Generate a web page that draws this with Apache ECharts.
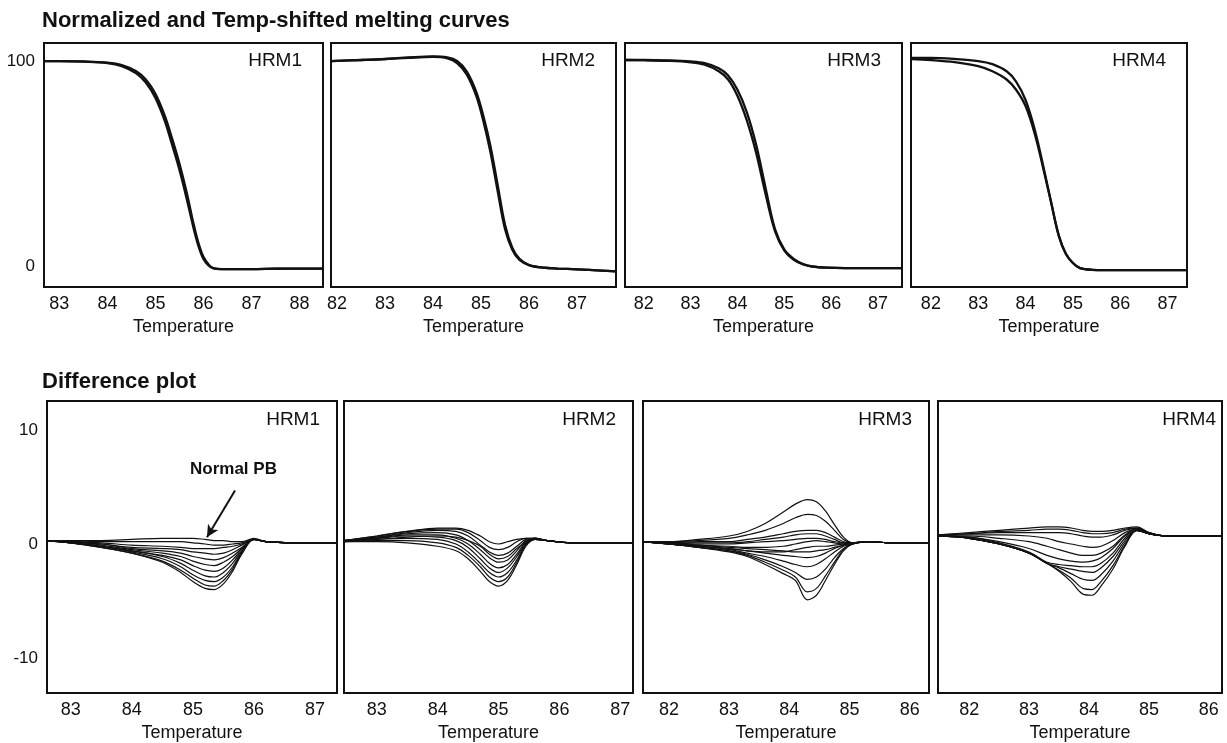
<!DOCTYPE html>
<html>
<head>
<meta charset="utf-8">
<script src="https://cdn.jsdelivr.net/npm/echarts@6/dist/echarts.min.js"></script>
<style>
html,body{margin:0;padding:0;background:#fff;}
#chart{width:1227px;height:743px;}
</style>
</head>
<body>
<div id="chart"></div>
<script>
// ---------- text ----------
const titleTop = 'Normalized and Temp-shifted melting curves';
const titleBottom = 'Difference plot';
const panelNames = ['HRM1', 'HRM2', 'HRM3', 'HRM4'];
const xName = 'Temperature';
const annotation = 'Normal PB';

// ---------- tick labels ----------
const topXTicks = [[83, 84, 85, 86, 87, 88], [82, 83, 84, 85, 86, 87], [82, 83, 84, 85, 86, 87], [82, 83, 84, 85, 86, 87]];
const botXTicks = [[83, 84, 85, 86, 87], [83, 84, 85, 86, 87], [82, 83, 84, 85, 86], [82, 83, 84, 85, 86]];
const topYTicks = [0, 100];
const botYTicks = [-10, 0, 10];

// ---------- axis ranges ----------
const topXRange = [[82.68, 88.49], [81.875, 87.81], [81.6, 87.51], [81.58, 87.41]];
const botXRange = [[82.61, 87.36], [82.46, 87.21], [81.57, 86.32], [81.48, 86.22]];
const topYRange = [-10.2, 108.8];
const botYRange = [-13.08, 12.55];

// ---------- melting curves (normalized fluorescence) ----------
const meltT1 = [82.68, 83.0, 83.5, 84.0, 84.3, 84.6, 84.8, 85.0, 85.2, 85.35, 85.5, 85.65, 85.8, 85.9, 86.0, 86.1, 86.2, 86.4, 87.0, 87.5, 88.0, 88.49];
const meltA1 = [100, 100, 99.8, 99.2, 98, 95, 91, 84, 73, 62, 50, 36, 20, 11, 4.5, 1, -1, -1.5, -1.5, -1.3, -1.2, -1.2];
const meltB1 = [100, 100, 99.7, 99.0, 97.5, 94, 89.5, 82, 70.5, 59, 47, 33, 18, 9.5, 3.5, 0.5, -1, -1.5, -1.5, -1.3, -1.2, -1.2];

const meltT2 = [81.875, 82.5, 83.0, 83.5, 84.0, 84.3, 84.5, 84.7, 84.9, 85.05, 85.2, 85.35, 85.5, 85.65, 85.8, 86.0, 86.3, 86.6, 87.0, 87.5, 87.81];
const meltA2 = [100, 100.5, 101, 101.8, 102.3, 101.8, 100, 95, 85, 73, 58, 39, 20, 9, 3.5, 0.5, -0.8, -1.2, -1.6, -2.2, -2.6];
const meltB2 = [100, 100.5, 101, 101.6, 102, 101.3, 99, 93.5, 83, 70.5, 55, 36, 18, 8, 3, 0.5, -0.8, -1.2, -1.6, -2.2, -2.6];

const meltT3 = [81.6, 82.0, 82.5, 83.0, 83.3, 83.6, 83.8, 84.0, 84.2, 84.4, 84.6, 84.8, 85.0, 85.2, 85.4, 85.6, 85.9, 86.3, 87.0, 87.51];
const meltA3 = [100.5, 100.5, 100.3, 99.8, 99, 96.5, 93, 86, 75, 59, 38, 18, 8, 3.5, 1, -0.2, -0.8, -1, -1, -1];
const meltB3 = [100.5, 100.4, 100.1, 99.4, 98.2, 95, 91, 83, 71, 55, 35, 17, 7.5, 3, 0.8, -0.3, -0.8, -1, -1, -1];

const meltT4 = [81.58, 82.0, 82.5, 83.0, 83.3, 83.6, 83.8, 84.0, 84.2, 84.4, 84.55, 84.7, 84.85, 85.0, 85.15, 85.4, 86.0, 87.0, 87.41];
const meltA4 = [101, 100.5, 99.5, 97.5, 95, 91, 86, 78, 64, 45, 30, 15, 6, 1.5, -1, -1.8, -2, -2, -2];
const meltB4 = [101.5, 101.5, 101, 100, 98.5, 95, 90, 81, 66, 46, 30, 15, 6, 1.5, -1, -1.8, -2, -2, -2];

// ---------- difference curves ----------
const diffT1 = [82.61, 83.0, 83.5, 84.0, 84.5, 84.8, 85.0, 85.2, 85.35, 85.5, 85.65, 85.8, 86.0, 86.2, 86.6, 87.0, 87.36];
const diff1 = [
  [0.3, 0.1, -0.3, -0.8, -1.6, -2.5, -3.3, -3.9, -4.0, -3.5, -2.4, -0.9, 0.4, 0.2, 0.1, 0.1, 0.1],
  [0.3, 0.1, -0.3, -0.8, -1.5, -2.3, -3.0, -3.6, -3.7, -3.2, -2.2, -0.8, 0.4, 0.2, 0.1, 0.1, 0.1],
  [0.3, 0.1, -0.2, -0.7, -1.3, -2.0, -2.7, -3.2, -3.3, -2.9, -2.0, -0.7, 0.4, 0.2, 0.1, 0.1, 0.1],
  [0.3, 0.1, -0.2, -0.6, -1.1, -1.7, -2.3, -2.8, -2.9, -2.5, -1.7, -0.6, 0.4, 0.2, 0.1, 0.1, 0.1],
  [0.3, 0.1, -0.2, -0.6, -1.0, -1.4, -1.9, -2.3, -2.4, -2.1, -1.4, -0.5, 0.4, 0.2, 0.1, 0.1, 0.1],
  [0.3, 0.2, -0.1, -0.5, -0.8, -1.1, -1.5, -1.8, -1.9, -1.6, -1.1, -0.4, 0.4, 0.2, 0.1, 0.1, 0.1],
  [0.3, 0.2, 0.0, -0.4, -0.6, -0.8, -1.1, -1.3, -1.4, -1.2, -0.8, -0.3, 0.4, 0.2, 0.1, 0.1, 0.1],
  [0.3, 0.2, 0.0, -0.3, -0.4, -0.5, -0.7, -0.8, -0.9, -0.8, -0.5, -0.1, 0.4, 0.2, 0.1, 0.1, 0.1],
  [0.3, 0.2, 0.1, -0.1, -0.2, -0.3, -0.4, -0.4, -0.4, -0.3, -0.2, 0.0, 0.4, 0.2, 0.1, 0.1, 0.1],
  [0.3, 0.3, 0.3, 0.4, 0.5, 0.5, 0.5, 0.4, 0.3, 0.3, 0.2, 0.2, 0.5, 0.2, 0.1, 0.1, 0.1],
  [0.3, 0.3, 0.2, 0.2, 0.2, 0.2, 0.1, 0.0, -0.1, -0.1, 0.0, 0.1, 0.4, 0.2, 0.1, 0.1, 0.1]
];

const diffT2 = [82.46, 83.0, 83.5, 84.0, 84.3, 84.5, 84.7, 84.85, 85.0, 85.15, 85.3, 85.45, 85.6, 85.8, 86.2, 86.6, 87.21];
const diff2 = [
  [0.2, 0.2, 0.1, -0.2, -0.6, -1.3, -2.4, -3.3, -3.7, -3.2, -1.8, -0.2, 0.4, 0.3, 0.1, 0.1, 0.1],
  [0.2, 0.3, 0.3, 0.1, -0.3, -1.0, -2.0, -2.9, -3.3, -2.9, -1.6, -0.1, 0.4, 0.3, 0.1, 0.1, 0.1],
  [0.3, 0.4, 0.5, 0.4, 0.0, -0.7, -1.7, -2.5, -2.9, -2.5, -1.4, 0.0, 0.4, 0.3, 0.1, 0.1, 0.1],
  [0.3, 0.5, 0.7, 0.6, 0.3, -0.3, -1.3, -2.1, -2.5, -2.1, -1.1, 0.1, 0.5, 0.3, 0.1, 0.1, 0.1],
  [0.3, 0.5, 0.8, 0.8, 0.5, 0.0, -0.9, -1.7, -2.1, -1.8, -0.9, 0.2, 0.5, 0.3, 0.1, 0.1, 0.1],
  [0.3, 0.6, 0.9, 1.0, 0.8, 0.3, -0.5, -1.2, -1.6, -1.4, -0.6, 0.3, 0.5, 0.3, 0.1, 0.1, 0.1],
  [0.3, 0.6, 1.0, 1.2, 1.1, 0.7, -0.1, -0.7, -1.0, -0.8, -0.2, 0.4, 0.5, 0.3, 0.1, 0.1, 0.1],
  [0.3, 0.7, 1.1, 1.3, 1.3, 1.0, 0.3, -0.3, -0.5, -0.3, 0.2, 0.5, 0.5, 0.3, 0.1, 0.1, 0.1],
  [0.3, 0.7, 1.1, 1.4, 1.4, 1.2, 0.7, 0.2, 0.0, 0.2, 0.4, 0.5, 0.5, 0.3, 0.1, 0.1, 0.1],
  [0.2, 0.4, 0.6, 0.7, 0.6, 0.3, -0.2, -0.9, -1.3, -1.1, -0.4, 0.2, 0.4, 0.3, 0.1, 0.1, 0.1]
];

const diffT3 = [81.57, 82.0, 82.5, 83.0, 83.3, 83.6, 83.9, 84.1, 84.3, 84.45, 84.6, 84.75, 84.9, 85.05, 85.3, 85.7, 86.32];
const diff3 = [
  [0.2, 0.2, 0.4, 0.7, 1.1, 1.8, 2.8, 3.5, 3.9, 3.7, 2.9, 1.7, 0.6, 0.1, 0.2, 0.1, 0.1],
  [0.2, 0.2, 0.3, 0.5, 0.8, 1.2, 1.8, 2.3, 2.6, 2.5, 2.0, 1.2, 0.4, 0.1, 0.2, 0.1, 0.1],
  [0.2, 0.1, 0.2, 0.2, 0.4, 0.6, 0.9, 1.1, 1.2, 1.2, 1.0, 0.6, 0.2, 0.1, 0.2, 0.1, 0.1],
  [0.2, 0.1, 0.1, 0.1, 0.2, 0.4, 0.6, 0.8, 0.9, 0.9, 0.7, 0.4, 0.1, 0.1, 0.2, 0.1, 0.1],
  [0.2, 0.1, 0.0, 0.0, 0.1, 0.2, 0.3, 0.4, 0.5, 0.5, 0.4, 0.2, 0.1, 0.1, 0.2, 0.1, 0.1],
  [0.2, 0.0, -0.1, -0.2, -0.3, -0.3, -0.2, 0.0, 0.2, 0.3, 0.2, 0.1, 0.0, 0.1, 0.2, 0.1, 0.1],
  [0.2, 0.0, -0.2, -0.4, -0.6, -0.7, -0.7, -0.5, -0.3, -0.2, -0.2, -0.1, 0.0, 0.1, 0.2, 0.1, 0.1],
  [0.2, 0.0, -0.3, -0.7, -1.1, -1.8, -2.6, -3.2, -4.9, -4.5, -3.2, -1.8, -0.6, 0.0, 0.2, 0.1, 0.1],
  [0.2, 0.0, -0.3, -0.6, -1.0, -1.6, -2.3, -2.9, -4.2, -3.9, -2.8, -1.6, -0.5, 0.0, 0.2, 0.1, 0.1],
  [0.2, 0.0, -0.3, -0.6, -0.9, -1.4, -2.0, -2.5, -3.1, -2.9, -2.2, -1.2, -0.4, 0.0, 0.2, 0.1, 0.1],
  [0.2, 0.0, -0.2, -0.5, -0.8, -1.1, -1.5, -1.8, -2.0, -1.8, -1.3, -0.7, -0.2, 0.0, 0.2, 0.1, 0.1],
  [0.2, 0.0, -0.2, -0.4, -0.6, -0.8, -1.0, -1.1, -1.2, -1.1, -0.8, -0.4, -0.1, 0.0, 0.2, 0.1, 0.1],
  [0.2, 0.1, -0.1, -0.3, -0.4, -0.5, -0.6, -0.7, -0.7, -0.6, -0.5, -0.3, -0.1, 0.1, 0.2, 0.1, 0.1]
];

const diffT4 = [81.48, 82.0, 82.5, 83.0, 83.3, 83.5, 83.7, 83.9, 84.05, 84.2, 84.4, 84.6, 84.8, 85.0, 85.3, 85.7, 86.22];
const diff4 = [
  [0.7, 0.5, 0.0, -0.8, -1.7, -2.4, -3.3, -4.4, -4.5, -3.7, -2.2, -0.2, 1.2, 0.9, 0.7, 0.7, 0.7],
  [0.7, 0.5, 0.0, -0.8, -1.7, -2.3, -3.0, -3.9, -4.0, -3.3, -1.9, -0.1, 1.2, 0.9, 0.7, 0.7, 0.7],
  [0.7, 0.5, 0.0, -0.8, -1.7, -2.1, -2.6, -3.1, -3.2, -2.7, -1.5, 0.1, 1.2, 0.9, 0.7, 0.7, 0.7],
  [0.7, 0.5, 0.0, -0.8, -1.7, -2.0, -2.2, -2.4, -2.5, -2.1, -1.1, 0.3, 1.2, 0.9, 0.7, 0.7, 0.7],
  [0.7, 0.6, 0.1, -0.7, -1.6, -1.8, -1.9, -2.0, -2.0, -1.7, -0.8, 0.5, 1.2, 0.9, 0.7, 0.7, 0.7],
  [0.7, 0.6, 0.2, -0.4, -1.0, -1.3, -1.5, -1.6, -1.5, -1.2, -0.4, 0.7, 1.2, 0.9, 0.7, 0.7, 0.7],
  [0.7, 0.7, 0.5, 0.2, -0.2, -0.5, -0.8, -1.0, -1.0, -0.8, -0.2, 0.8, 1.3, 0.9, 0.7, 0.7, 0.7],
  [0.7, 0.8, 0.8, 0.7, 0.5, 0.2, 0.0, -0.2, -0.3, -0.2, 0.3, 1.0, 1.3, 0.9, 0.7, 0.7, 0.7],
  [0.8, 1.0, 1.2, 1.4, 1.5, 1.5, 1.4, 1.2, 1.1, 1.1, 1.2, 1.4, 1.5, 1.0, 0.7, 0.7, 0.7],
  [0.8, 0.9, 1.1, 1.2, 1.3, 1.3, 1.2, 1.0, 0.9, 0.9, 1.0, 1.3, 1.4, 1.0, 0.7, 0.7, 0.7],
  [0.8, 0.9, 1.0, 1.0, 1.0, 1.0, 0.9, 0.7, 0.6, 0.6, 0.8, 1.2, 1.4, 1.0, 0.7, 0.7, 0.7]
];

// arrow annotation (data coords of HRM1 difference panel)
const arrowFrom = [85.69, 4.7];
const arrowTo = [85.23, 0.6];

// ---------- layout ----------
const FONT = 'Liberation Sans';
const topGrid = [
  {left: 44, top: 43, width: 279, height: 244},
  {left: 331, top: 43, width: 285, height: 244},
  {left: 625, top: 43, width: 277, height: 244},
  {left: 911, top: 43, width: 276, height: 244}
];
const botGrid = [
  {left: 47, top: 401, width: 290, height: 292},
  {left: 344, top: 401, width: 289, height: 292},
  {left: 643, top: 401, width: 286, height: 292},
  {left: 938, top: 401, width: 284, height: 292}
];

const grids = [], xAxes = [], yAxes = [], series = [], graphics = [];

function addPanel(g, xr, xt, yr, yt, showY) {
  const idx = grids.length;
  grids.push(Object.assign({show: true, borderColor: '#111', borderWidth: 2, backgroundColor: 'transparent', containLabel: false}, g));
  xAxes.push({
    type: 'value', gridIndex: idx, min: xr[0], max: xr[1],
    name: xName, nameLocation: 'middle', nameGap: 31,
    nameTextStyle: {fontFamily: FONT, fontSize: 18, color: '#111'},
    axisLine: {show: false}, axisTick: {show: false}, splitLine: {show: false},
    axisLabel: {customValues: xt, margin: 8, fontFamily: FONT, fontSize: 18, color: '#111'}
  });
  yAxes.push({
    type: 'value', gridIndex: idx, min: yr[0], max: yr[1],
    axisLine: {show: false}, axisTick: {show: false}, splitLine: {show: false},
    axisLabel: {show: showY, customValues: yt, margin: 9, fontFamily: FONT, fontSize: 17, color: '#111'}
  });
  return idx;
}

function addLine(idx, T, V, w, color, extra) {
  series.push(Object.assign({
    type: 'line', xAxisIndex: idx, yAxisIndex: idx,
    data: T.map((t, i) => [t, V[i]]),
    smooth: 0.35, symbol: 'none', silent: true, animation: false,
    lineStyle: {color: color, width: w}
  }, extra || {}));
}

const meltSets = [
  [meltT1, [meltA1, meltB1]],
  [meltT2, [meltA2, meltB2]],
  [meltT3, [meltA3, meltB3]],
  [meltT4, [meltA4, meltB4]]
];
const diffSets = [[diffT1, diff1], [diffT2, diff2], [diffT3, diff3], [diffT4, diff4]];

for (let p = 0; p < 4; p++) {
  const idx = addPanel(topGrid[p], topXRange[p], topXTicks[p], topYRange, topYTicks, p === 0);
  meltSets[p][1].forEach(v => addLine(idx, meltSets[p][0], v, 2.3, '#111'));
  graphics.push({
    type: 'text', right: 1227 - (topGrid[p].left + topGrid[p].width) + 21, top: 51,
    style: {text: panelNames[p], font: '19px "' + FONT + '"', fill: '#111'}
  });
}
for (let p = 0; p < 4; p++) {
  const idx = addPanel(botGrid[p], botXRange[p], botXTicks[p], botYRange, botYTicks, p === 0);
  diffSets[p][1].forEach(v => addLine(idx, diffSets[p][0], v, 1.2, '#111'));
  const r = p === 3 ? 6 : 17;
  graphics.push({
    type: 'text', right: 1227 - (botGrid[p].left + botGrid[p].width) + r, top: 410,
    style: {text: panelNames[p], font: '19px "' + FONT + '"', fill: '#111'}
  });
}

// arrow for "Normal PB" on HRM1 difference panel (grid index 4)
series.push({
  type: 'line', xAxisIndex: 4, yAxisIndex: 4, data: [], silent: true, animation: false,
  markLine: {
    silent: true, animation: false, symbol: ['none', 'arrow'], symbolSize: [9, 12],
    label: {show: false},
    lineStyle: {color: '#111', width: 2, type: 'solid'},
    data: [[{coord: arrowFrom}, {coord: arrowTo}]]
  }
});

graphics.push({
  type: 'text', left: 42, top: 10,
  style: {text: titleTop, font: 'bold 22px "' + FONT + '"', fill: '#111'}
});
graphics.push({
  type: 'text', left: 42, top: 371,
  style: {text: titleBottom, font: 'bold 22px "' + FONT + '"', fill: '#111'}
});
graphics.push({
  type: 'text', left: 190, top: 461,
  style: {text: annotation, font: 'bold 17px "' + FONT + '"', fill: '#111'}
});

const chart = echarts.init(document.getElementById('chart'), null, {renderer: 'canvas'});
chart.setOption({
  animation: false,
  backgroundColor: '#fff',
  grid: grids, xAxis: xAxes, yAxis: yAxes, series: series,
  graphic: graphics
});
</script>
</body>
</html>
